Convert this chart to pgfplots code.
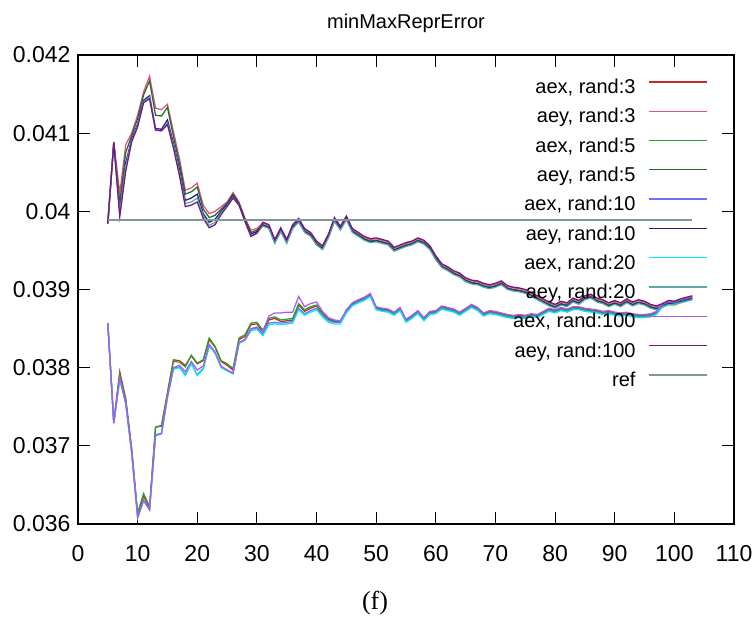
\documentclass[border=0pt]{standalone}
\usepackage{fontspec}
\setmainfont{Liberation Sans}
\newfontfamily\capfont{Liberation Serif}
\usepackage{pgfplots}
\usepackage{pgfplotstable}
\pgfplotsset{compat=1.18}

% gnuplot-like colours
\definecolor{cAexA}{RGB}{200,40,40}
\definecolor{cAeyA}{RGB}{235,80,120}
\definecolor{cAexB}{RGB}{40,160,40}
\definecolor{cAeyB}{RGB}{30,110,40}
\definecolor{cAexC}{RGB}{110,110,255}
\definecolor{cAeyC}{RGB}{30,30,140}
\definecolor{cAexD}{RGB}{0,235,235}
\definecolor{cAeyD}{RGB}{90,170,170}
\definecolor{cAexE}{RGB}{170,90,240}
\definecolor{cAeyE}{RGB}{120,20,130}
\definecolor{cRef}{RGB}{130,150,150}

% aey: upper group
\pgfplotstableread{
x r3 r5 r10 r20 r100
5 0.03985 0.03985 0.03985 0.03985 0.03984
6 0.04089 0.04088 0.04088 0.04088 0.04088
7 0.04023 0.04010 0.04000 0.03998 0.03993
8 0.04085 0.04075 0.04062 0.04058 0.04051
9 0.04100 0.04097 0.04092 0.04090 0.04089
10 0.04123 0.04119 0.04112 0.04110 0.04108
11 0.04153 0.04149 0.04142 0.04140 0.04139
12 0.04173 0.04167 0.04148 0.04146 0.04144
13 0.04132 0.04123 0.04106 0.04104 0.04104
14 0.04130 0.04122 0.04105 0.04103 0.04103
15 0.04137 0.04133 0.04117 0.04113 0.04111
16 0.04102 0.04096 0.04087 0.04084 0.04081
17 0.04068 0.04062 0.04054 0.04050 0.04046
18 0.04027 0.04022 0.04014 0.04010 0.04006
19 0.04030 0.04025 0.04017 0.04012 0.04008
20 0.04036 0.04031 0.04022 0.04017 0.04012
21 0.04008 0.04003 0.03997 0.03994 0.03991
22 0.03997 0.03992 0.03986 0.03982 0.03979
23 0.04000 0.03995 0.03990 0.03986 0.03983
24 0.04006 0.04003 0.04000 0.03998 0.03996
25 0.04012 0.04010 0.04009 0.04007 0.04006
26 0.04024 0.04022 0.04020 0.04018 0.04017
27 0.04012 0.04010 0.04009 0.04008 0.04008
28 0.03991 0.03990 0.03989 0.03987 0.03987
29 0.03976 0.03973 0.03971 0.03969 0.03968
30 0.03978 0.03976 0.03974 0.03972 0.03972
31 0.03985 0.03983 0.03982 0.03981 0.03986
32 0.03982 0.03980 0.03979 0.03978 0.03983
33 0.03963 0.03961 0.03960 0.03959 0.03964
34 0.03978 0.03976 0.03975 0.03974 0.03979
35 0.03963 0.03961 0.03960 0.03959 0.03964
36 0.03982 0.03980 0.03979 0.03978 0.03983
37 0.03990 0.03988 0.03987 0.03986 0.03991
38 0.03977 0.03975 0.03974 0.03973 0.03978
39 0.03972 0.03970 0.03969 0.03968 0.03973
40 0.03961 0.03959 0.03958 0.03957 0.03962
41 0.03955 0.03953 0.03952 0.03951 0.03956
42 0.03970 0.03968 0.03967 0.03966 0.03971
43 0.03991 0.03989 0.03988 0.03987 0.03992
44 0.03980 0.03978 0.03977 0.03976 0.03981
45 0.03993 0.03991 0.03990 0.03989 0.03994
46 0.03977 0.03975 0.03974 0.03973 0.03978
47 0.03972 0.03970 0.03969 0.03968 0.03973
48 0.03967 0.03965 0.03964 0.03963 0.03968
49 0.03964 0.03962 0.03961 0.03960 0.03965
50 0.03965 0.03963 0.03962 0.03961 0.03966
51 0.03963 0.03961 0.03960 0.03959 0.03964
52 0.03961 0.03959 0.03958 0.03957 0.03962
53 0.03953 0.03951 0.03950 0.03949 0.03954
54 0.03956 0.03954 0.03953 0.03952 0.03957
55 0.03959 0.03957 0.03956 0.03955 0.03960
56 0.03961 0.03959 0.03958 0.03957 0.03962
57 0.03965 0.03963 0.03962 0.03961 0.03966
58 0.03962 0.03960 0.03959 0.03958 0.03963
59 0.03955 0.03953 0.03952 0.03951 0.03956
60 0.03942 0.03940 0.03939 0.03938 0.03943
61 0.03932 0.03930 0.03929 0.03928 0.03933
62 0.03928 0.03926 0.03925 0.03924 0.03929
63 0.03923 0.03921 0.03920 0.03919 0.03924
64 0.03920 0.03918 0.03917 0.03916 0.03921
65 0.03914 0.03912 0.03911 0.03910 0.03915
66 0.03911 0.03909 0.03908 0.03907 0.03912
67 0.03910 0.03908 0.03907 0.03906 0.03911
68 0.03907 0.03905 0.03904 0.03903 0.03908
69 0.03905 0.03903 0.03902 0.03901 0.03906
70 0.03907 0.03905 0.03904 0.03903 0.03908
71 0.03910 0.03908 0.03907 0.03906 0.03911
72 0.03904 0.03902 0.03901 0.03900 0.03905
73 0.03902 0.03900 0.03899 0.03898 0.03903
74 0.03901 0.03899 0.03898 0.03897 0.03902
75 0.03899 0.03897 0.03896 0.03895 0.03900
76 0.03895 0.03893 0.03892 0.03891 0.03896
77 0.03891 0.03889 0.03888 0.03887 0.03892
78 0.03887 0.03885 0.03884 0.03883 0.03888
79 0.03883 0.03881 0.03880 0.03879 0.03884
80 0.03880 0.03878 0.03877 0.03876 0.03881
81 0.03884 0.03882 0.03881 0.03880 0.03885
82 0.03882 0.03880 0.03879 0.03878 0.03883
83 0.03888 0.03886 0.03885 0.03884 0.03889
84 0.03885 0.03883 0.03882 0.03881 0.03886
85 0.03891 0.03889 0.03888 0.03887 0.03892
86 0.03893 0.03891 0.03890 0.03889 0.03894
87 0.03888 0.03886 0.03885 0.03884 0.03889
88 0.03886 0.03884 0.03883 0.03882 0.03887
89 0.03882 0.03880 0.03879 0.03878 0.03883
90 0.03885 0.03883 0.03882 0.03881 0.03886
91 0.03882 0.03880 0.03879 0.03878 0.03883
92 0.03887 0.03885 0.03884 0.03883 0.03888
93 0.03883 0.03881 0.03880 0.03879 0.03884
94 0.03886 0.03884 0.03883 0.03882 0.03887
95 0.03884 0.03882 0.03881 0.03880 0.03885
96 0.03880 0.03878 0.03877 0.03876 0.03881
97 0.03878 0.03876 0.03875 0.03874 0.03879
98 0.03881 0.03879 0.03878 0.03877 0.03882
99 0.03885 0.03883 0.03882 0.03881 0.03886
100 0.03884 0.03882 0.03881 0.03880 0.03885
101 0.03887 0.03885 0.03884 0.03883 0.03888
102 0.03889 0.03887 0.03886 0.03885 0.03890
103 0.03891 0.03889 0.03888 0.03887 0.03892
}\aeytab

% aex: lower group
\pgfplotstableread{
x r3 r5 r10 r20 r100
5 0.03857 0.03857 0.03857 0.03857 0.03857
6 0.03731 0.03729 0.03729 0.03729 0.03729
7 0.03795 0.03792 0.03786 0.03785 0.03787
8 0.03761 0.03759 0.03755 0.03754 0.03755
9 0.03697 0.03695 0.03692 0.03691 0.03692
10 0.03612 0.03614 0.03609 0.03608 0.03608
11 0.03636 0.03639 0.03631 0.03630 0.03630
12 0.03621 0.03622 0.03619 0.03618 0.03618
13 0.03724 0.03724 0.03714 0.03713 0.03714
14 0.03726 0.03725 0.03716 0.03715 0.03716
15 0.03768 0.03767 0.03763 0.03762 0.03762
16 0.03810 0.03808 0.03799 0.03798 0.03800
17 0.03809 0.03807 0.03801 0.03800 0.03803
18 0.03803 0.03801 0.03791 0.03790 0.03795
19 0.03815 0.03816 0.03806 0.03805 0.03808
20 0.03805 0.03806 0.03791 0.03790 0.03797
21 0.03809 0.03810 0.03799 0.03798 0.03802
22 0.03836 0.03838 0.03829 0.03828 0.03830
23 0.03826 0.03827 0.03819 0.03818 0.03820
24 0.03808 0.03809 0.03801 0.03800 0.03802
25 0.03803 0.03805 0.03797 0.03796 0.03797
26 0.03797 0.03799 0.03793 0.03792 0.03793
27 0.03836 0.03838 0.03832 0.03831 0.03832
28 0.03840 0.03842 0.03836 0.03835 0.03836
29 0.03855 0.03857 0.03849 0.03847 0.03850
30 0.03856 0.03858 0.03851 0.03849 0.03852
31 0.03846 0.03848 0.03843 0.03841 0.03846
32 0.03861 0.03863 0.03857 0.03855 0.03866
33 0.03863 0.03865 0.03858 0.03856 0.03870
34 0.03859 0.03861 0.03857 0.03855 0.03870
35 0.03860 0.03862 0.03858 0.03856 0.03871
36 0.03861 0.03863 0.03859 0.03857 0.03871
37 0.03880 0.03882 0.03876 0.03874 0.03891
38 0.03872 0.03874 0.03869 0.03867 0.03878
39 0.03876 0.03878 0.03873 0.03871 0.03882
40 0.03879 0.03880 0.03876 0.03874 0.03884
41 0.03869 0.03870 0.03867 0.03865 0.03872
42 0.03862 0.03863 0.03860 0.03858 0.03864
43 0.03859 0.03860 0.03858 0.03856 0.03861
44 0.03859 0.03860 0.03858 0.03856 0.03860
45 0.03873 0.03872 0.03871 0.03870 0.03874
46 0.03882 0.03881 0.03880 0.03879 0.03883
47 0.03886 0.03885 0.03884 0.03883 0.03887
48 0.03889 0.03888 0.03887 0.03886 0.03890
49 0.03894 0.03893 0.03892 0.03891 0.03895
50 0.03877 0.03876 0.03875 0.03874 0.03878
51 0.03875 0.03874 0.03873 0.03872 0.03876
52 0.03874 0.03873 0.03872 0.03871 0.03875
53 0.03870 0.03869 0.03868 0.03867 0.03871
54 0.03876 0.03875 0.03874 0.03873 0.03877
55 0.03861 0.03860 0.03859 0.03858 0.03862
56 0.03866 0.03865 0.03864 0.03863 0.03867
57 0.03872 0.03871 0.03870 0.03869 0.03873
58 0.03863 0.03862 0.03861 0.03860 0.03864
59 0.03871 0.03870 0.03869 0.03868 0.03872
60 0.03872 0.03871 0.03870 0.03869 0.03873
61 0.03878 0.03877 0.03876 0.03875 0.03879
62 0.03876 0.03875 0.03874 0.03873 0.03877
63 0.03874 0.03873 0.03872 0.03871 0.03875
64 0.03870 0.03869 0.03868 0.03867 0.03871
65 0.03875 0.03874 0.03873 0.03872 0.03876
66 0.03880 0.03879 0.03878 0.03877 0.03881
67 0.03876 0.03875 0.03874 0.03873 0.03877
68 0.03869 0.03868 0.03867 0.03866 0.03870
69 0.03872 0.03871 0.03870 0.03869 0.03873
70 0.03871 0.03870 0.03869 0.03868 0.03872
71 0.03869 0.03868 0.03867 0.03866 0.03870
72 0.03867 0.03866 0.03865 0.03864 0.03868
73 0.03866 0.03865 0.03864 0.03863 0.03867
74 0.03867 0.03866 0.03865 0.03864 0.03868
75 0.03866 0.03865 0.03864 0.03863 0.03867
76 0.03868 0.03867 0.03866 0.03865 0.03869
77 0.03867 0.03866 0.03865 0.03864 0.03868
78 0.03871 0.03870 0.03869 0.03868 0.03872
79 0.03875 0.03874 0.03873 0.03872 0.03876
80 0.03873 0.03872 0.03871 0.03870 0.03874
81 0.03876 0.03875 0.03874 0.03873 0.03877
82 0.03874 0.03873 0.03872 0.03871 0.03875
83 0.03877 0.03876 0.03875 0.03874 0.03878
84 0.03877 0.03876 0.03875 0.03874 0.03878
85 0.03875 0.03874 0.03873 0.03872 0.03876
86 0.03874 0.03873 0.03872 0.03871 0.03875
87 0.03873 0.03872 0.03871 0.03870 0.03874
88 0.03871 0.03870 0.03869 0.03868 0.03872
89 0.03872 0.03871 0.03870 0.03869 0.03873
90 0.03870 0.03869 0.03868 0.03867 0.03871
91 0.03869 0.03868 0.03867 0.03866 0.03870
92 0.03870 0.03869 0.03868 0.03867 0.03871
93 0.03868 0.03867 0.03866 0.03865 0.03869
94 0.03867 0.03866 0.03865 0.03864 0.03868
95 0.03867 0.03866 0.03865 0.03864 0.03868
96 0.03868 0.03867 0.03866 0.03865 0.03869
97 0.03871 0.03870 0.03869 0.03868 0.03872
98 0.03881 0.03880 0.03879 0.03878 0.03882
99 0.03883 0.03882 0.03881 0.03880 0.03884
100 0.03884 0.03883 0.03882 0.03881 0.03885
101 0.03886 0.03885 0.03884 0.03883 0.03887
102 0.03888 0.03887 0.03886 0.03885 0.03889
103 0.03890 0.03889 0.03888 0.03887 0.03891
}\aextab

\begin{document}
\begin{tikzpicture}
\useasboundingbox (-78bp,-104bp) rectangle (676bp,524bp);
\begin{axis}[
    scale only axis,
    width=656bp, height=469bp,
    xmin=0, xmax=110,
    ymin=0.036, ymax=0.042,
    xtick={0,10,20,30,40,50,60,70,80,90,100,110},
    ytick={0.036,0.037,0.038,0.039,0.040,0.041,0.042},
    scaled y ticks=false,
    yticklabel style={/pgf/number format/fixed, /pgf/number format/precision=3, xshift=-4bp},
    xticklabel style={yshift=-18bp},
    /pgf/number format/assume math mode=true,
    tick label style={font=\fontsize{23bp}{27bp}\selectfont},
    tick align=inside,
    major tick length=12bp,
    every tick/.style={black, line width=1bp},
    axis line style={line width=1.3bp},
    title={minMaxReprError},
    title style={at={(0.5,1)}, anchor=base, yshift=21bp, font=\fontsize{20bp}{24bp}\selectfont},
    legend plot pos=right,
    legend cell align=right,
    legend image code/.code={\draw[#1] (0bp,0bp) -- (58bp,0bp);},
    legend style={at={(1,1)}, anchor=north east, xshift=-26bp, yshift=-15.1bp,
        draw=none, fill=none, inner sep=0pt, row sep=6.1bp, column sep=13bp,
        nodes={inner sep=0pt, text height=23.2bp, text depth=0bp},
        font=\fontsize{20bp}{24bp}\selectfont},
    every axis plot/.append style={line width=1.25bp},
]
\addplot[color=cAexA] table[x=x, y=r3] {\aextab};
\addplot[color=cAeyA] table[x=x, y=r3] {\aeytab};
\addplot[color=cAexB] table[x=x, y=r5] {\aextab};
\addplot[color=cAeyB] table[x=x, y=r5] {\aeytab};
\addplot[color=cAexC] table[x=x, y=r10] {\aextab};
\addplot[color=cAeyC] table[x=x, y=r10] {\aeytab};
\addplot[color=cAexD] table[x=x, y=r20] {\aextab};
\addplot[color=cAeyD] table[x=x, y=r20] {\aeytab};
\addplot[color=cAexE] table[x=x, y=r100] {\aextab};
\addplot[color=cAeyE] table[x=x, y=r100] {\aeytab};
\addplot[color=cRef] coordinates {(5,0.03989) (103,0.03989)};
\legend{{aex, rand:3}, {aey, rand:3}, {aex, rand:5}, {aey, rand:5},
        {aex, rand:10}, {aey, rand:10}, {aex, rand:20}, {aey, rand:20},
        {aex, rand:100}, {aey, rand:100}, ref}
\end{axis}
\node[font=\capfont\fontsize{26bp}{30bp}\selectfont] at (297bp,-79bp) {(f)};
\end{tikzpicture}
\end{document}
